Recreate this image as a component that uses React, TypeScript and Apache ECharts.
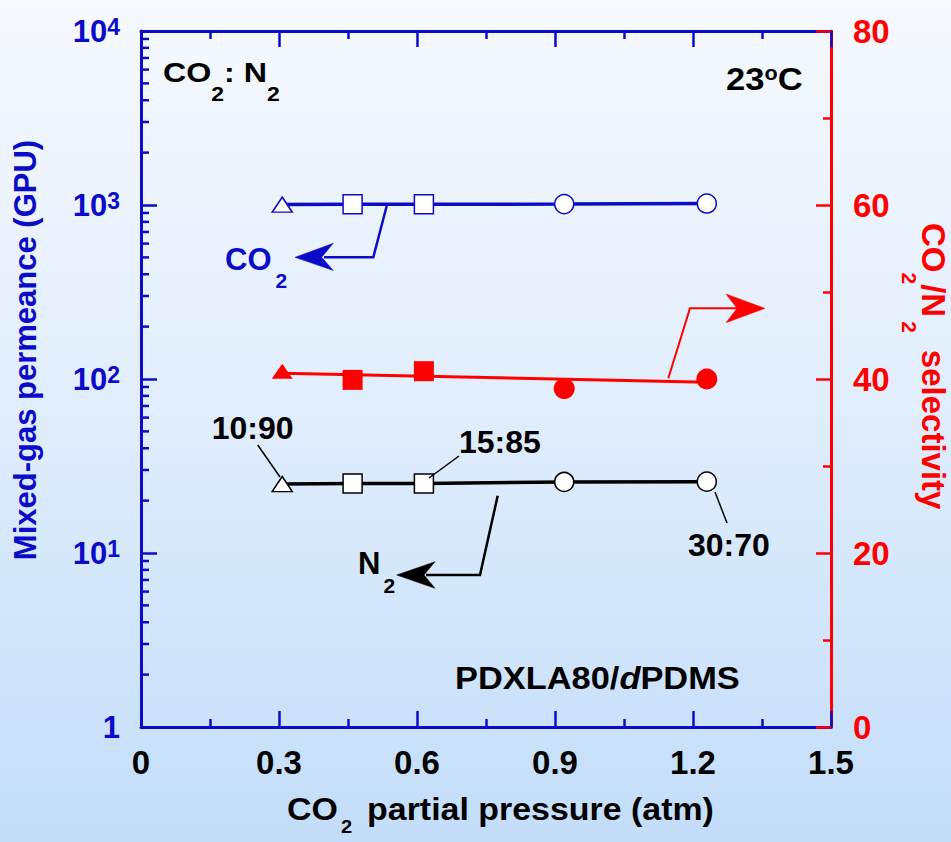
import React, { useEffect, useRef } from 'react';
import * as echarts from 'echarts';

// ---------- data ----------
const pressure = [0.307, 0.46, 0.615, 0.92, 1.23]; // CO2 partial pressure (atm)
const composition = ['10:90', '15:85', '15:85', '30:70', '30:70']; // CO2:N2 feed
const co2Permeance = [1005, 1010, 1010, 1012, 1020]; // GPU
const n2Permeance = [24.9, 25.1, 25.1, 25.6, 25.7]; // GPU
const selectivity = [40.9, 39.9, 40.9, 38.9, 40.0]; // CO2/N2
const selectivityFitPressure = [0.307, 1.23];
const selectivityFit = [40.66, 39.62];

// ---------- axis structure ----------
const xMin = 0, xMax = 1.5, xStep = 0.3;
const permMin = 1, permMax = 10000;
const permDecades = [1, 10, 100, 1000];
const minorMultipliers = [2, 3, 4, 5, 6, 7, 8, 9];
const selMin = 0, selMax = 80, selStep = 20;

const BLUE = '#0c0cc8';
const RED = '#ff0000';
const BLACK = '#000000';
const FF = '"Liberation Sans", Arial, Helvetica, sans-serif';

const SHAPE: Record<string, string> = { '10:90': 'triangle', '15:85': 'rect', '30:70': 'circle' };
const OPEN_SIZE: Record<string, any> = { triangle: [20, 15], rect: 19, circle: 19 };
const FILLED_SIZE: Record<string, any> = { triangle: [21, 15], rect: 20, circle: 21 };

const minorLogTicks = permDecades.flatMap((d) => minorMultipliers.map((m) => m * d));

const tok = (size: number, fill: string, lh: number, extra: any = {}) => ({
  fontSize: size,
  fontWeight: 'bold',
  fontFamily: FF,
  fill,
  color: fill,
  lineHeight: lh,
  verticalAlign: 'top',
  ...extra,
});

function richText(x: number, y: number, text: string, rich: any, fill: string, extra: any = {}) {
  return {
    type: 'text',
    x,
    y,
    z: 50,
    silent: true,
    ...extra,
    style: {
      text,
      rich,
      fill,
      fontSize: 32,
      fontWeight: 'bold',
      fontFamily: FF,
      align: 'left',
      verticalAlign: 'top',
      textAlign: 'left',
      textVerticalAlign: 'top',
    },
  };
}

function plainText(x: number, y: number, text: string, size: number, fill: string, extra: any = {}, align = 'left') {
  return {
    type: 'text',
    x,
    y,
    z: 50,
    silent: true,
    ...extra,
    style: {
      text,
      fill,
      fontSize: size,
      fontWeight: 'bold',
      fontFamily: FF,
      align,
      verticalAlign: 'middle',
      textAlign: align,
      textVerticalAlign: 'middle',
    },
  };
}

const line = (pts: number[][], stroke: string, w: number) => ({
  type: 'polyline',
  z: 40,
  silent: true,
  shape: { points: pts },
  style: { stroke, lineWidth: w, fill: 'none' },
});
const head = (pts: number[][], fill: string) => ({
  type: 'polygon',
  z: 40,
  silent: true,
  shape: { points: pts },
  style: { fill, stroke: fill, lineWidth: 0.5 },
});

function buildOption() {
  const openData = (vals: number[]) =>
    pressure.map((x, i) => {
      const s = SHAPE[composition[i]];
      return { value: [x, vals[i]], symbol: s, symbolSize: OPEN_SIZE[s] };
    });
  const filledData = pressure.map((x, i) => {
    const s = SHAPE[composition[i]];
    return { value: [x, selectivity[i]], symbol: s, symbolSize: FILLED_SIZE[s] };
  });

  const xAxisCommon = {
    type: 'value',
    min: xMin,
    max: xMax,
    interval: xStep,
    splitLine: { show: false },
    axisLine: { show: true, onZero: false, lineStyle: { color: BLUE, width: 3 } },
    axisTick: { show: true, inside: true, length: 16, lineStyle: { color: BLUE, width: 2.5 } },
    minorTick: { show: true, splitNumber: 2, length: 8, lineStyle: { color: BLUE, width: 2.5 } },
  };

  return {
    animation: false,
    backgroundColor: 'transparent',
    textStyle: { fontFamily: FF },
    grid: { left: 141, right: 120, top: 31, bottom: 115, containLabel: false },
    xAxis: [
      {
        ...xAxisCommon,
        position: 'bottom',
        axisLabel: {
          show: true,
          margin: 19,
          fontSize: 33,
          lineHeight: 33,
          fontWeight: 'bold',
          fontFamily: FF,
          color: BLACK,
          formatter: (v: number) => (Math.abs(v) < 1e-9 ? '0' : v.toFixed(1)),
        },
      },
      {
        ...xAxisCommon,
        position: 'top',
        axisLabel: { show: false },
      },
    ],
    yAxis: [
      {
        type: 'log',
        logBase: 10,
        min: permMin,
        max: permMax,
        position: 'left',
        splitLine: { show: false },
        axisLine: { show: true, onZero: false, lineStyle: { color: BLUE, width: 3 } },
        axisTick: { show: true, inside: true, length: 16, lineStyle: { color: BLUE, width: 2.5 } },
        axisLabel: {
          show: true,
          margin: 21,
          formatter: (v: number) => {
            const e = Math.round(Math.log10(v));
            return e === 0 ? '{b|1}' : '{b|10}{s|' + e + '}';
          },
          rich: {
            b: { fontSize: 31, lineHeight: 31, fontWeight: 'bold', fontFamily: FF, color: BLUE, verticalAlign: 'top' },
            s: { fontSize: 23, lineHeight: 16, fontWeight: 'bold', fontFamily: FF, color: BLUE, verticalAlign: 'top' },
          },
        },
      },
      {
        type: 'value',
        min: selMin,
        max: selMax,
        interval: selStep,
        position: 'right',
        alignTicks: false,
        splitLine: { show: false },
        axisLine: { show: true, onZero: false, lineStyle: { color: RED, width: 3 } },
        axisTick: { show: true, inside: true, length: 15, lineStyle: { color: RED, width: 2.5 } },
        minorTick: { show: true, splitNumber: 2, length: 8, lineStyle: { color: RED, width: 2.5 } },
        axisLabel: {
          show: true,
          margin: 22,
          fontSize: 33,
          lineHeight: 33,
          fontWeight: 'bold',
          fontFamily: FF,
          color: RED,
        },
      },
    ],
    series: [
      {
        name: 'log minor ticks',
        type: 'custom',
        xAxisIndex: 0,
        yAxisIndex: 0,
        silent: true,
        clip: false,
        z: 1,
        data: minorLogTicks.map((v) => [xMin, v]),
        renderItem: (_p: any, api: any) => {
          const pt = api.coord([xMin, api.value(1)]);
          return {
            type: 'line',
            shape: { x1: pt[0], y1: pt[1], x2: pt[0] + 8, y2: pt[1] },
            style: { stroke: BLUE, lineWidth: 2.5 },
          };
        },
      },
      {
        name: 'CO2 permeance',
        type: 'line',
        xAxisIndex: 0,
        yAxisIndex: 0,
        data: openData(co2Permeance),
        showSymbol: true,
        lineStyle: { color: BLUE, width: 3.5 },
        itemStyle: { color: '#ffffff', borderColor: BLUE, borderWidth: 1.5 },
        z: 3,
      },
      {
        name: 'N2 permeance',
        type: 'line',
        xAxisIndex: 0,
        yAxisIndex: 0,
        data: openData(n2Permeance),
        showSymbol: true,
        lineStyle: { color: BLACK, width: 3.5 },
        itemStyle: { color: '#ffffff', borderColor: BLACK, borderWidth: 1.5 },
        z: 3,
      },
      {
        name: 'selectivity fit',
        type: 'line',
        xAxisIndex: 0,
        yAxisIndex: 1,
        data: selectivityFitPressure.map((x, i) => [x, selectivityFit[i]]),
        symbol: 'none',
        showSymbol: false,
        lineStyle: { color: RED, width: 3 },
        z: 3,
      },
      {
        name: 'CO2/N2 selectivity',
        type: 'scatter',
        xAxisIndex: 0,
        yAxisIndex: 1,
        data: filledData,
        itemStyle: { color: RED, opacity: 1 },
        z: 4,
      },
    ],
    graphic: {
      elements: [
        // axis titles
        plainText(25, 350, 'Mixed-gas permeance (GPU)', 31, BLUE, { rotation: Math.PI / 2 }, 'center'),
        richText(
          950,
          223,
          '{b|CO}{s|2}{b|/N}{t|2}{c|selectivity}',
          {
            b: tok(33, RED, 31),
            s: tok(21, RED, 21, { padding: [30, 0, 0, 0] }),
            t: tok(21, RED, 21, { padding: [30, 0, 0, 4] }),
            c: tok(33, RED, 31, { padding: [0, 0, 0, 17] }),
          },
          RED,
          { rotation: -Math.PI / 2 }
        ),
        richText(
          287,
          793,
          '{b|CO}{s|2}{c|partial pressure (atm)}',
          {
            b: tok(32, BLACK, 32),
            s: tok(19, BLACK, 15, { padding: [23.5, 0, 0, 3] }),
            c: tok(32, BLACK, 32, { padding: [0, 0, 0, 14] }),
          },
          BLACK,
          { scaleX: 1.06 }
        ),
        // corner annotations
        richText(
          163,
          58.5,
          '{b|CO}{s|2}{b|: N}{s|2}',
          {
            b: tok(28, BLACK, 28),
            s: tok(20, BLACK, 20, { padding: [26, 0, 0, 0] }),
          },
          BLACK,
          { scaleX: 1.15 }
        ),
        richText(
          726,
          62.5,
          '{b|23}{o|o}{b|C}',
          {
            b: tok(32, BLACK, 32),
            o: tok(20, BLACK, 9),
          },
          BLACK,
          { scaleX: 1.08 }
        ),
        richText(
          455,
          662,
          '{b|PDXLA80/}{i|d}{b|PDMS}',
          {
            b: tok(32, BLACK, 32),
            i: tok(32, BLACK, 32, { fontStyle: 'italic' }),
          },
          BLACK,
          { scaleX: 1.075 }
        ),
        // composition labels and leaders
        plainText(211.7, 428, '10:90', 32, BLACK),
        plainText(459, 442, '15:85', 32, BLACK),
        plainText(688, 544.5, '30:70', 32, BLACK),
        line([[257.7, 445], [280, 477]], BLACK, 1.5),
        line([[459, 456], [429, 478]], BLACK, 1.5),
        line([[715, 492], [727, 523]], BLACK, 1.5),
        // CO2 arrow
        richText(
          225,
          243.5,
          '{b|CO}{s|2}',
          {
            b: tok(31, BLUE, 31),
            s: tok(21, BLUE, 21, { padding: [26.5, 0, 0, 4] }),
          },
          BLUE
        ),
        line([[386.7, 206], [373.3, 257.3], [324, 257.3]], BLUE, 2.5),
        head([[295, 257.3], [333.3, 243.3], [321.7, 257.3], [333.3, 270.5]], BLUE),
        // N2 arrow
        richText(
          358,
          548,
          '{b|N}{s|2}',
          {
            b: tok(31, BLACK, 31),
            s: tok(21, BLACK, 21, { padding: [26.5, 0, 0, 3] }),
          },
          BLACK
        ),
        line([[497.7, 495.7], [480, 575], [426, 575]], BLACK, 2.5),
        head([[396.7, 575], [435, 561.7], [424, 575], [435, 588.3]], BLACK),
        // selectivity arrow
        line([[668.3, 378.3], [690, 308.3], [738, 308.3]], RED, 2),
        head([[765, 308.3], [726, 294], [737, 308.3], [726, 322.7]], RED),
      ],
    },
  };
}

export default function App() {
  const ref = useRef<HTMLDivElement>(null);
  useEffect(() => {
    if (!ref.current) return;
    const chart = echarts.init(ref.current, null, { renderer: 'svg' });
    chart.setOption(buildOption() as any);
    return () => {
      chart.dispose();
    };
  }, []);
  return (
    <div
      ref={ref}
      style={{
        position: 'fixed',
        left: 0,
        top: 0,
        width: 951,
        height: 842,
        background: 'linear-gradient(to bottom, #f6f9fe 0%, #e2eefc 45%, #c3ddf9 100%)',
      }}
    />
  );
}
